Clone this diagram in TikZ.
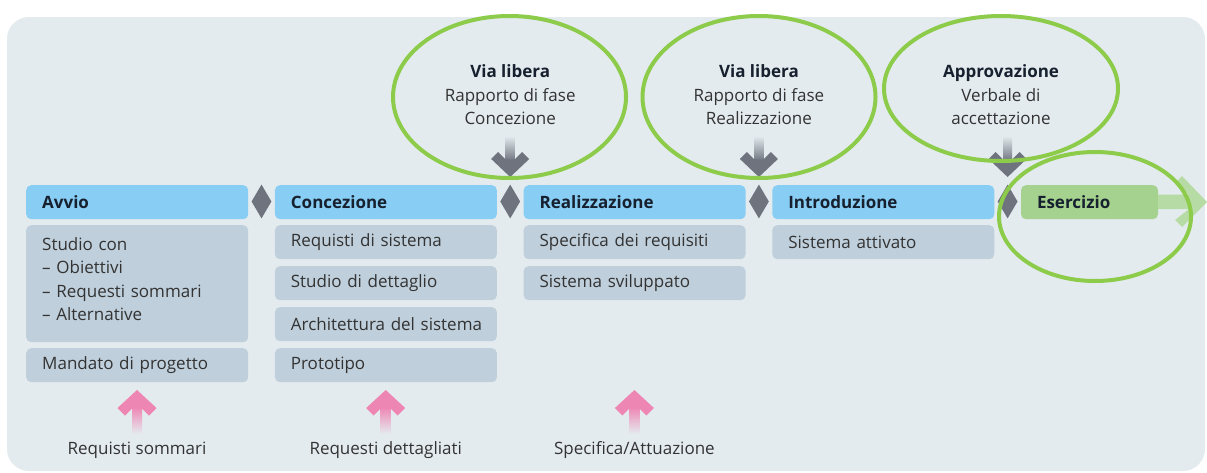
\documentclass[tikz,border=0pt]{standalone}
\usepackage{fontspec}
\setmainfont{Open Sans}
\usetikzlibrary{shapes.geometric}
\definecolor{bgc}{HTML}{E4EBEF}
\definecolor{hdr}{HTML}{88CDF3}
\definecolor{cnt}{HTML}{BFCFDB}
\definecolor{grn}{HTML}{8DCB4B}
\definecolor{esc}{HTML}{A5D28E}
\definecolor{escar}{HTML}{B3DA9D}
\definecolor{dgray}{HTML}{6E737E}
\definecolor{pink}{HTML}{EE86B4}
\definecolor{txt}{HTML}{333333}
\definecolor{htxt}{HTML}{16202E}
\newcommand\grayarrow[1]{%
  \shade[top color=bgc, bottom color=dgray] ({#1-4.5},136) rectangle ({#1+4.5},161);
  \fill[dgray] ({#1-4.5},159.5) -- ({#1-12},152) -- ({#1-19},159) -- ({#1},177) -- ({#1+19},159) -- ({#1+12},152) -- ({#1+4.5},159.5) -- cycle;}
\newcommand\pinkarrow[1]{%
  \shade[top color=pink, bottom color=bgc] ({#1-5},407) rectangle ({#1+5},434);
  \fill[pink] ({#1-5},408.5) -- ({#1-12},415.5) -- ({#1-19.5},408) -- ({#1},390) -- ({#1+19.5},408) -- ({#1+12},415.5) -- ({#1+5},408.5) -- cycle;}
\begin{document}
\begin{tikzpicture}[x=1pt,y=-1pt,
  every node/.style={font=\fontsize{17}{23.5}\selectfont},
  hbox/.style={rectangle, rounded corners=5pt, fill=hdr, anchor=north west, minimum height=34pt, text width=190pt, inner xsep=16pt, inner ysep=0pt, align=left, text=htxt, font=\fontsize{17}{23.5}\selectfont\bfseries},
  cbox/.style={rectangle, rounded corners=5pt, fill=cnt, anchor=north west, minimum height=34pt, text width=190pt, inner xsep=16pt, inner ysep=0pt, align=left, text=txt},
  dia/.style={diamond, fill=dgray, minimum width=20pt, minimum height=34pt, inner sep=0pt},
  ring/.style={ellipse, draw=grn, line width=4pt, inner sep=0pt},
  etext/.style={align=center, text=txt, inner sep=0pt},
  blabel/.style={text=txt, inner sep=0pt}
]
\useasboundingbox (0,0) rectangle (1207,472);
\fill[white] (0,0) rectangle (1207,472);
\fill[bgc, rounded corners=22pt] (7,17) rectangle (1205,471);

% headers
\node[hbox] (h1) at (26,185) {Avvio};
\node[hbox] (h2) at (274.7,185) {Concezione};
\node[hbox] (h3) at (523.4,185) {Realizzazione};
\node[hbox] (h4) at (772.1,185) {Introduzione};
\node[hbox, fill=esc, text width=105pt] (h5) at (1020.8,185) {Esercizio};
\fill[escar, opacity=0.9] (1158,194.5) -- (1189,194.5) -- (1175,183) -- (1182,176) -- (1207,202) -- (1182,227) -- (1175,220) -- (1189,209) -- (1158,209) -- cycle;

% diamonds
\node[dia] (d1) at (261.5,201.5) {};
\node[dia] (d2) at (510.2,201.5) {};
\node[dia] (d3) at (758.9,201.5) {};
\node[dia] (d4) at (1007.6,201.5) {};

% content
\node[cbox, minimum height=117pt] (a1) at (26,225) {Studio con\\– Obiettivi\\– Requesti sommari\\– Alternative\rule[-9pt]{0pt}{0pt}};
\node[cbox] (a2) at (26,348) {Mandato di progetto};
\node[cbox] (c1) at (274.7,225) {Requisti di sistema};
\node[cbox] (c2) at (274.7,266) {Studio di dettaglio};
\node[cbox] (c3) at (274.7,307) {\mbox{Architettura del sistema}};
\node[cbox] (c4) at (274.7,348) {Prototipo};
\node[cbox] (r1) at (523.4,225) {Specifica dei requisiti};
\node[cbox] (r2) at (523.4,266) {Sistema sviluppato};
\node[cbox] (i1) at (772.1,225) {Sistema attivato};

% arrows
\grayarrow{510.2}
\grayarrow{758.9}
\grayarrow{1007.6}
\pinkarrow{137}
\pinkarrow{385.7}
\pinkarrow{634.4}

% bottom labels
\node[blabel] (b1) at (137,450) {Requisti sommari};
\node[blabel] (b2) at (385.7,450) {Requesti dettagliati};
\node[blabel] (b3) at (634.4,450) {Specifica/Attuazione};

% ellipse texts
\node[etext] (t1) at (510.2,95) {\textbf{\color{htxt}Via libera}\\Rapporto di fase\\Concezione};
\node[etext] (t2) at (758.9,95) {\textbf{\color{htxt}Via libera}\\Rapporto di fase\\Realizzazione};
\node[etext] (t3) at (1001,95) {\textbf{\color{htxt}Approvazione}\\Verbale di\\accettazione};

% rings
\node[ring, minimum width=233pt, minimum height=162pt] (e1) at (509.5,97) {};
\node[ring, minimum width=233pt, minimum height=162pt] (e2) at (759,97) {};
\node[ring, minimum width=234pt, minimum height=145pt] (e3) at (1001,88.5) {};
\node[ring, minimum width=192pt, minimum height=129pt] (e4) at (1095,216.5) {};
\end{tikzpicture}
\end{document}
